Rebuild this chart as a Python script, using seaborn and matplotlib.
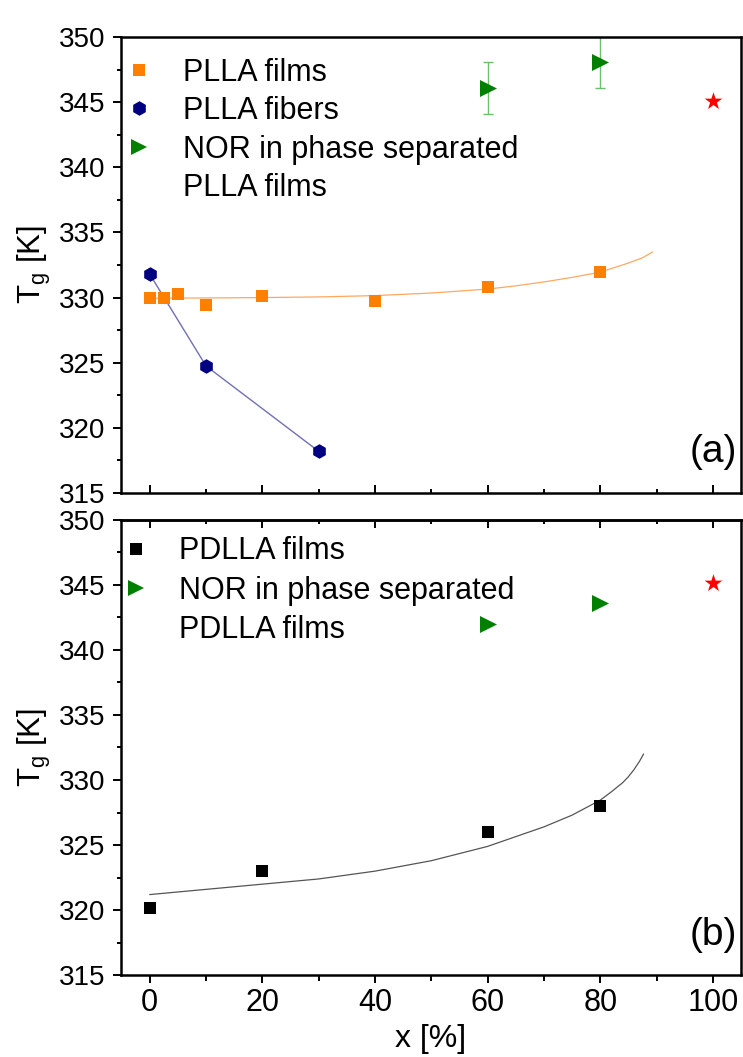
import matplotlib
matplotlib.use("Agg")
import matplotlib.pyplot as plt
import seaborn as sns
from matplotlib.lines import Line2D
from matplotlib.ticker import MultipleLocator

# ---------------- data ----------------
plla_film_x = [0, 2.5, 5, 10, 20, 40, 60, 80]
plla_film_y = [330.0, 329.95, 330.3, 329.45, 330.1, 329.7, 330.8, 332.0]
plla_fit_x = [0, 10, 20, 30, 40, 50, 60, 65, 70, 75, 80, 85, 87.5, 89.3]
plla_fit_y = [329.95, 329.97, 330.0, 330.05, 330.15, 330.35, 330.65, 330.9,
              331.2, 331.55, 331.95, 332.65, 333.05, 333.5]
plla_fiber_x = [0, 10, 30]
plla_fiber_y = [331.8, 324.75, 318.2]
nor_plla_x = [60, 80]
nor_plla_y = [346.1, 348.1]
nor_plla_err = [2.0, 2.0]
nor_x = [100]
nor_y = [345.1]

pdlla_film_x = [0, 20, 60, 80]
pdlla_film_y = [320.2, 323.0, 326.0, 328.0]
pdlla_fit_x = [0, 10, 20, 30, 40, 50, 60, 70, 75, 80, 82, 84, 85, 86, 87, 87.7]
pdlla_fit_y = [321.2, 321.6, 322.0, 322.4, 323.0, 323.8, 324.9, 326.4, 327.3,
               328.45, 329.1, 329.8, 330.25, 330.8, 331.45, 332.0]
nor_pdlla_x = [60, 80]
nor_pdlla_y = [342.0, 343.6]

x_ticks = [0, 20, 40, 60, 80, 100]
x_tick_labels = ["0", "20", "40", "60", "80", "100"]
y_ticks = [315, 320, 325, 330, 335, 340, 345, 350]
y_tick_labels = [str(v) for v in y_ticks]

legend_a = ["PLLA films", "PLLA fibers", "NOR in phase separated", "PLLA films"]
legend_b = ["PDLLA films", "NOR in phase separated", "PDLLA films"]

# ---------------- style ----------------
sns.set_theme(style="ticks")
plt.rcParams["font.family"] = ["Liberation Sans", "DejaVu Sans"]
plt.rcParams["mathtext.fontset"] = "custom"
plt.rcParams["mathtext.rm"] = "Liberation Sans"
plt.rcParams["text.color"] = "black"
plt.rcParams["axes.labelcolor"] = "black"
plt.rcParams["xtick.color"] = "black"
plt.rcParams["ytick.color"] = "black"
plt.rcParams["axes.edgecolor"] = "black"

ORANGE = "#ff7f00"
NAVY = "#000080"
GREEN = "#008000"
RED = "#ff0000"

W, H = 743, 1057
fig = plt.figure(figsize=(W / 100, H / 100), dpi=100)
ax1 = fig.add_axes([121 / W, 1 - 493 / H, 620 / W, 456 / H])
ax2 = fig.add_axes([121 / W, 1 - 975.3 / H, 620 / W, 455.7 / H])

for ax in (ax1, ax2):
    ax.set_xlim(-5.1, 105.0)
    ax.set_ylim(315, 350)
    ax.set_yticks(y_ticks)
    ax.set_yticklabels(y_tick_labels)
    ax.yaxis.set_minor_locator(MultipleLocator(2.5))
    ax.set_xticks(x_ticks)
    ax.xaxis.set_minor_locator(MultipleLocator(10))
    for sp in ax.spines.values():
        sp.set_linewidth(1.8)
        sp.set_color("black")
    ax.tick_params(axis="y", which="major", direction="out", length=6, width=1.4,
                   left=True, right=False, labelsize=20, pad=5, colors="black")
    ax.tick_params(axis="y", which="minor", direction="out", length=3, width=1.4,
                   left=True, right=False, colors="black")
    ax.set_ylabel(r"T$_\mathregular{g}$ [K]", fontsize=22.5, color="black")
    ax.yaxis.set_label_coords(-0.110, 0.5)

# ---------------- panel (a) ----------------
ax1.tick_params(axis="x", which="major", direction="in", length=6, width=1.4,
                bottom=True, top=False, labelbottom=False, colors="black")
ax1.tick_params(axis="x", which="minor", direction="in", length=3, width=1.4,
                bottom=True, top=False, colors="black")

sns.lineplot(x=plla_fit_x, y=plla_fit_y, ax=ax1, color="#ffa860", lw=0.9,
             sort=False, estimator=None, zorder=2)
sns.lineplot(x=plla_fiber_x, y=plla_fiber_y, ax=ax1, color="#7070b4", lw=1.0,
             sort=False, estimator=None, zorder=2)
ax1.errorbar(nor_plla_x, nor_plla_y, yerr=nor_plla_err, fmt="none",
             ecolor="#6cbf6c", elinewidth=1.0, capsize=3.3, capthick=1.0, zorder=2)
sns.scatterplot(x=plla_film_x, y=plla_film_y, ax=ax1, marker="s", s=72,
                color=ORANGE, linewidth=0, zorder=3)
sns.scatterplot(x=plla_fiber_x, y=plla_fiber_y, ax=ax1, marker="h", s=110,
                color=NAVY, linewidth=0, zorder=3)
sns.scatterplot(x=nor_plla_x, y=nor_plla_y, ax=ax1, marker=">", s=150,
                color=GREEN, linewidth=0, zorder=3)
sns.scatterplot(x=nor_x, y=nor_y, ax=ax1, marker="*", s=180,
                color=RED, linewidth=0, zorder=3)

handles_a = [
    Line2D([], [], ls="none", marker="s", ms=8.5, color=ORANGE, mew=0),
    Line2D([], [], ls="none", marker="h", ms=10.5, color=NAVY, mew=0),
    Line2D([], [], ls="none", marker=">", ms=12, color=GREEN, mew=0),
    Line2D([], [], ls="none", marker=None),
]
ax1.legend(handles_a, legend_a, loc="upper left", bbox_to_anchor=(0.006, 0.955),
           frameon=False, fontsize=22, handlelength=0.95, handletextpad=0.95,
           labelspacing=0.28, borderpad=0, borderaxespad=0)
ax1.text(0.9935, 0.09, "(a)", transform=ax1.transAxes, ha="right", va="center",
         fontsize=28)

# ---------------- panel (b) ----------------
ax2.tick_params(axis="x", which="major", direction="out", length=6, width=1.4,
                bottom=True, top=False, labelbottom=True, labelsize=22, pad=3,
                colors="black")
ax2.tick_params(axis="x", which="minor", direction="out", length=4, width=1.4,
                bottom=True, top=False, colors="black")
ax2.set_xticklabels(x_tick_labels)
sec = ax2.secondary_xaxis("top")
sec.set_xticks(x_ticks)
sec.xaxis.set_minor_locator(MultipleLocator(10))
sec.tick_params(axis="x", which="major", direction="in", length=6, width=1.4,
                labeltop=False, colors="black")
sec.tick_params(axis="x", which="minor", direction="in", length=3, width=1.4,
                colors="black")
sec.spines["top"].set_linewidth(1.8)
sec.spines["top"].set_color("black")

sns.lineplot(x=pdlla_fit_x, y=pdlla_fit_y, ax=ax2, color="#555555", lw=0.9,
             sort=False, estimator=None, zorder=2)
sns.scatterplot(x=pdlla_film_x, y=pdlla_film_y, ax=ax2, marker="s", s=72,
                color="black", linewidth=0, zorder=3)
sns.scatterplot(x=nor_pdlla_x, y=nor_pdlla_y, ax=ax2, marker=">", s=150,
                color=GREEN, linewidth=0, zorder=3)
sns.scatterplot(x=nor_x, y=nor_y, ax=ax2, marker="*", s=180,
                color=RED, linewidth=0, zorder=3)

handles_b = [
    Line2D([], [], ls="none", marker="s", ms=8.5, color="black", mew=0),
    Line2D([], [], ls="none", marker=">", ms=12, color=GREEN, mew=0),
    Line2D([], [], ls="none", marker=None),
]
ax2.legend(handles_b, legend_b, loc="upper left", bbox_to_anchor=(0.0, 0.963),
           frameon=False, fontsize=22, handlelength=0.95, handletextpad=0.95,
           labelspacing=0.30, borderpad=0, borderaxespad=0)
ax2.text(0.9935, 0.088, "(b)", transform=ax2.transAxes, ha="right", va="center",
         fontsize=28)

ax2.set_xlabel("x [%]", fontsize=23, color="black")
ax2.xaxis.set_label_coords(0.5, -0.107)

fig.savefig("out.png", dpi=100)
